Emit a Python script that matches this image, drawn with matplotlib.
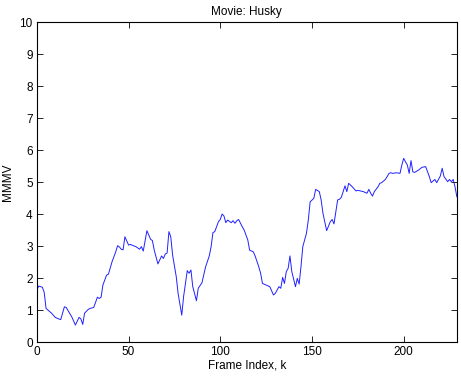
import matplotlib
matplotlib.use("Agg")
import matplotlib.pyplot as plt

frame = [0, 1, 3, 4, 5, 7, 8, 10, 12, 13, 15, 16, 17, 19, 21, 23, 24, 25, 26, 28,
         29, 31, 33, 34, 35, 36, 38, 39, 41, 43, 44, 45, 46, 47, 48, 50, 51, 53, 54, 56,
         57, 58, 60, 62, 63, 64, 66, 68, 69, 70, 71, 72, 73, 74, 76, 77, 79, 80, 82, 83,
         84, 85, 87, 88, 90, 92, 94, 95, 96, 97, 99, 100, 101, 102, 103, 104, 106, 107, 108, 109,
         110, 112, 113, 115, 116, 118, 119, 121, 122, 123, 125, 127, 129, 130, 132, 133, 134, 135, 136, 137,
         138, 139, 141, 142, 143, 144, 145, 147, 148, 149, 151, 152, 154, 155, 156, 158, 160, 161, 162, 163,
         164, 165, 166, 168, 169, 170, 172, 174, 175, 178, 180, 181, 182, 183, 184, 186, 187, 188, 190, 191,
         192, 193, 194, 196, 198, 199, 200, 201, 202, 203, 204, 205, 206, 208, 210, 212, 214, 215, 217, 218,
         220, 221, 222, 224, 225, 226, 227, 228, 229]
mmmv = [1.62, 1.75, 1.71, 1.55, 1.05, 0.95, 0.90, 0.77, 0.72, 0.70, 1.10, 1.08, 0.98, 0.79, 0.53, 0.77, 0.72, 0.55, 0.90, 1.02,
        1.05, 1.08, 1.40, 1.36, 1.40, 1.78, 2.09, 2.12, 2.51, 2.82, 3.01, 2.97, 2.90, 2.88, 3.29, 3.03, 3.05, 3.00, 2.98, 2.90,
        2.98, 2.84, 3.48, 3.21, 3.17, 2.87, 2.44, 2.69, 2.61, 2.75, 2.78, 3.45, 3.29, 2.72, 2.04, 1.52, 0.84, 1.42, 2.23, 2.15,
        2.25, 1.73, 1.29, 1.68, 1.85, 2.35, 2.69, 2.98, 3.42, 3.45, 3.76, 3.83, 4.00, 3.94, 3.73, 3.81, 3.73, 3.79, 3.71, 3.79,
        3.83, 3.60, 3.50, 3.19, 2.87, 2.82, 2.69, 2.35, 2.15, 1.83, 1.78, 1.73, 1.47, 1.52, 1.73, 1.68, 2.02, 1.83, 2.20, 2.30,
        2.69, 2.20, 1.73, 1.99, 1.81, 2.35, 2.98, 3.40, 3.81, 4.38, 4.49, 4.77, 4.70, 4.44, 4.02, 3.48, 3.76, 3.83, 3.69, 4.07,
        4.44, 4.46, 4.52, 4.88, 4.70, 4.96, 4.85, 4.72, 4.74, 4.70, 4.65, 4.77, 4.65, 4.56, 4.70, 4.85, 4.96, 4.98, 5.08, 5.17,
        5.27, 5.29, 5.27, 5.29, 5.27, 5.53, 5.74, 5.63, 5.53, 5.27, 5.67, 5.32, 5.30, 5.37, 5.46, 5.48, 5.17, 4.98, 5.08, 4.98,
        5.19, 5.43, 5.17, 5.01, 5.08, 5.01, 5.08, 4.85, 4.54]

plt.rcParams["font.family"] = ["Liberation Sans", "DejaVu Sans"]
plt.rcParams["font.size"] = 8.5

fig = plt.figure(figsize=(4.61, 3.76), dpi=100)
ax = fig.add_axes([0.080, 0.0904, 0.911, 0.851])
ax.plot(frame, mmmv, color="#2020ff", linewidth=0.7)

ax.set_xlim(0, 229)
ax.set_ylim(0, 10)
ax.set_xticks([0, 50, 100, 150, 200])
ax.set_yticks(range(0, 11))
ax.tick_params(direction="in", top=True, right=True, length=4, width=0.6, labelsize=8.5, pad=3)
for s in ax.spines.values():
    s.set_linewidth(0.8)

ax.set_title("Movie: Husky", fontsize=8.5, pad=5)
ax.set_xlabel("Frame Index, k", fontsize=8.5, labelpad=1)
ax.set_ylabel("MMMV", fontsize=8.5, labelpad=4)

fig.savefig("out.png", dpi=100)
